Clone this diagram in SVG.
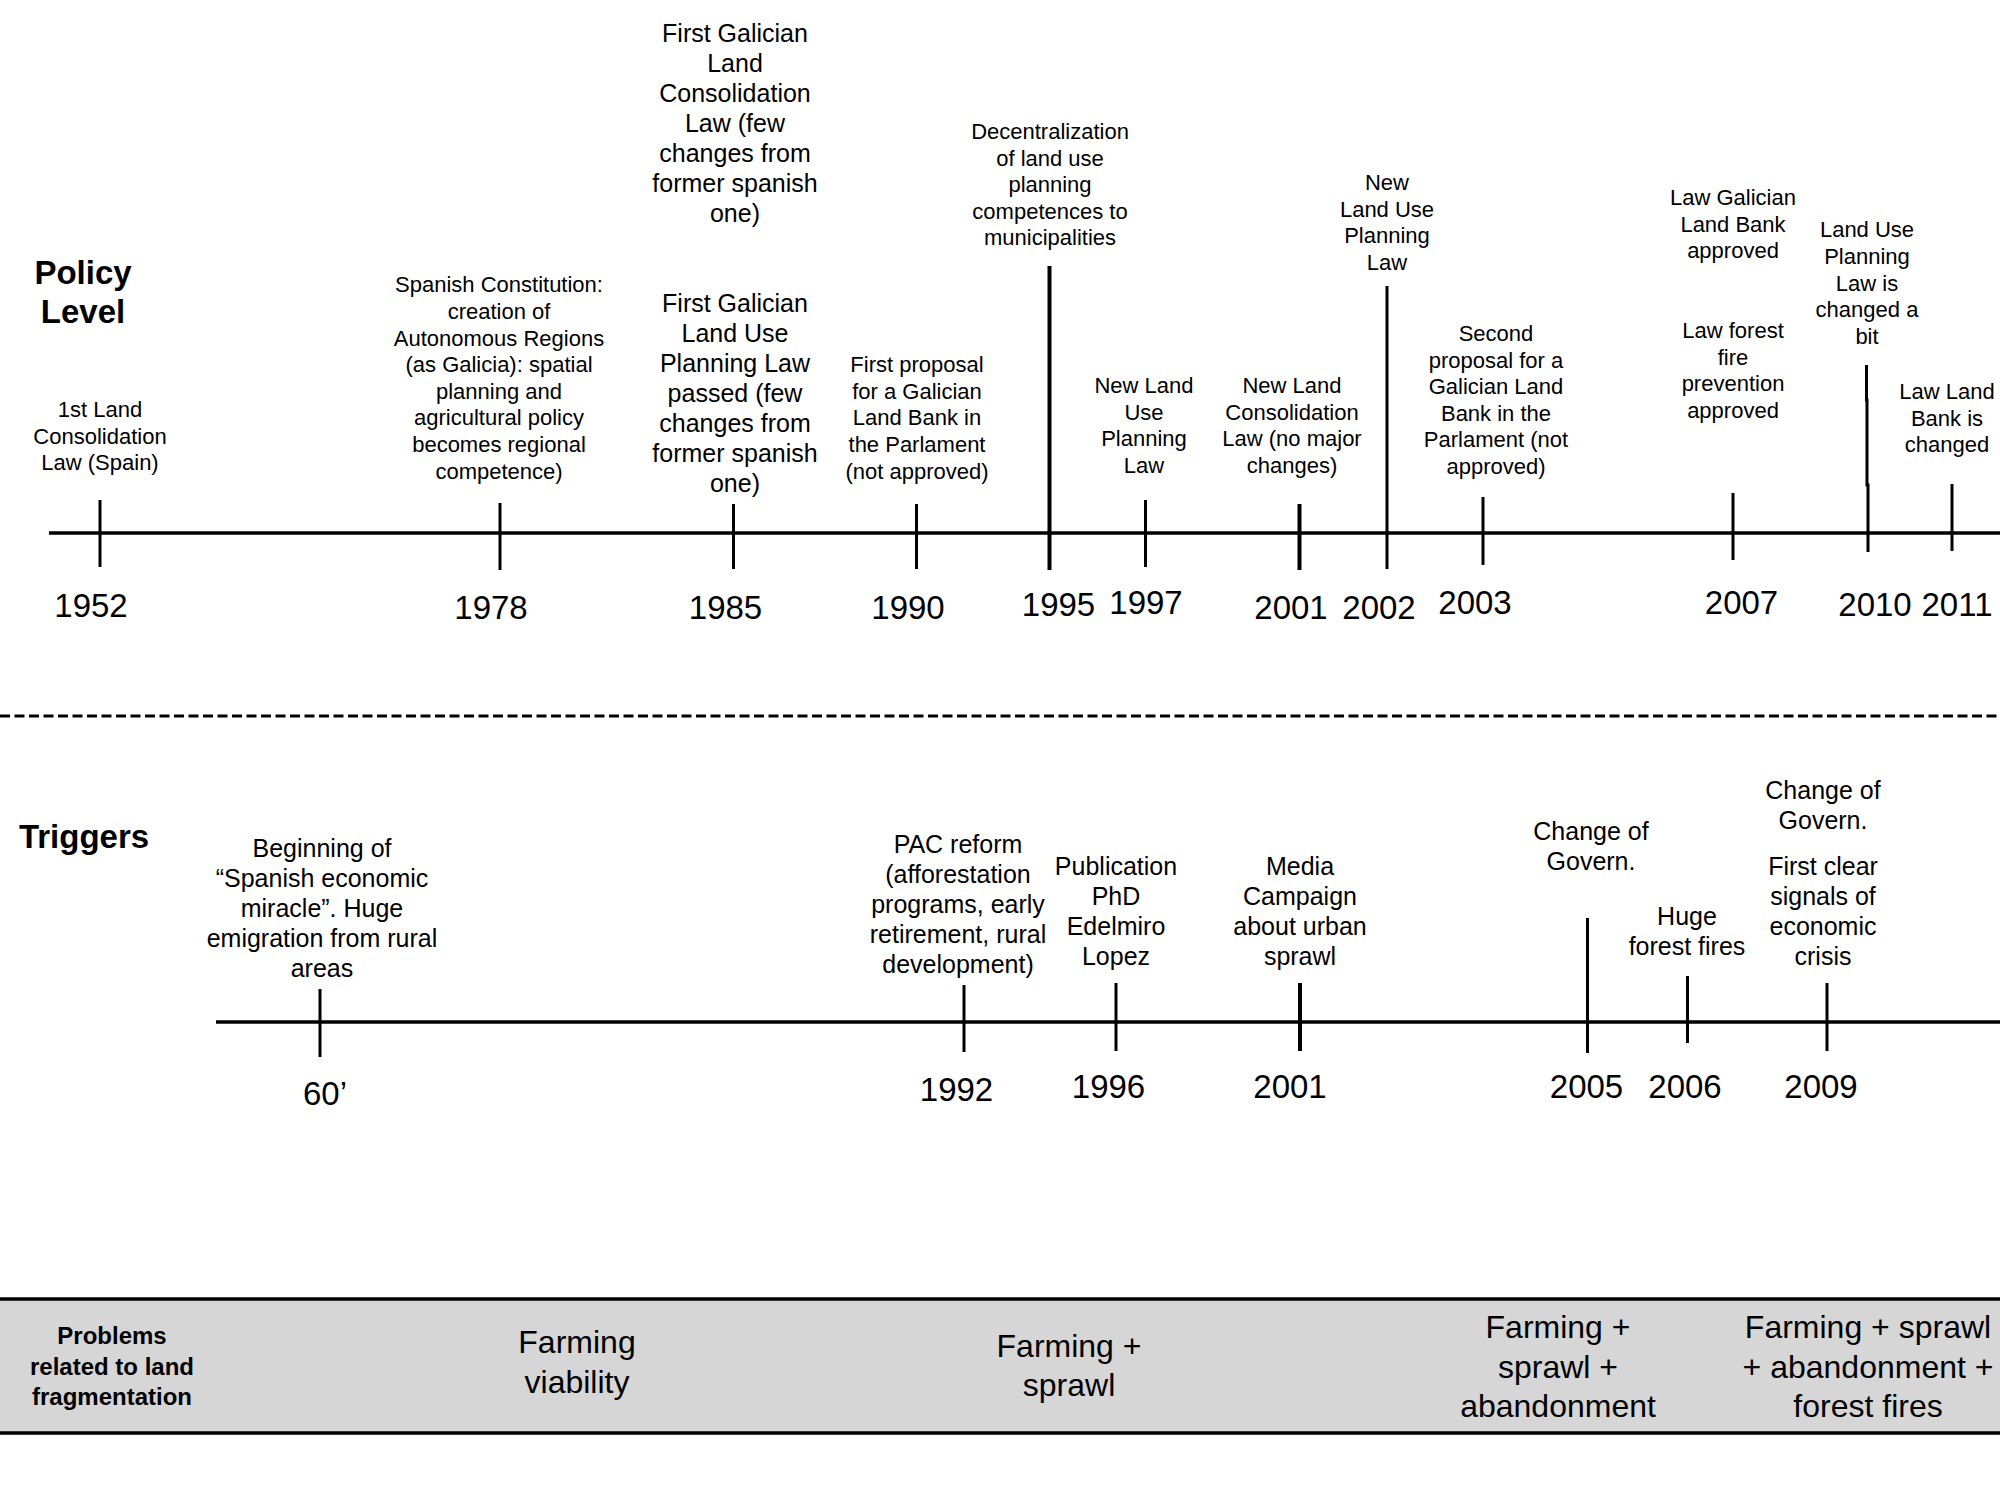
<svg xmlns="http://www.w3.org/2000/svg" width="2000" height="1500" viewBox="0 0 2000 1500">
<style>
text{font-family:"Liberation Sans",Arial,sans-serif;fill:#000;text-anchor:middle}
.h{font-size:33px;font-weight:bold}
.ev{font-size:22px}
.evl{font-size:25px}
.yr{font-size:33px}
.pb{font-size:24px;font-weight:bold}
.bd{font-size:32px}
.axis{stroke:#000;stroke-width:3.5;fill:none}
.tick{stroke:#000;stroke-width:3;fill:none}
.tk{stroke:#000;stroke-width:4;fill:none}
</style>
<rect width="2000" height="1500" fill="#fff"/>
<g id="headings">
<text class="h" x="83" y="284">Policy</text>
<text class="h" x="83" y="323">Level</text>
<text class="h" x="84" y="848">Triggers</text>
</g>
<g id="connectors">
<line class="axis" x1="49" y1="533" x2="2000" y2="533"/>
<line class="axis" x1="216" y1="1022" x2="2000" y2="1022"/>
<line stroke="#000" stroke-width="3" stroke-dasharray="10 4.5" x1="0" y1="716" x2="2000" y2="716"/>
<line class="tick" x1="100" y1="500" x2="100" y2="567"/>
<line class="tick" x1="500" y1="503" x2="500" y2="570"/>
<line class="tick" x1="733.5" y1="504" x2="733.5" y2="569"/>
<line class="tick" x1="916.5" y1="504" x2="916.5" y2="569"/>
<line class="tk" x1="1049.5" y1="266" x2="1049.5" y2="570"/>
<line class="tick" x1="1145.5" y1="500" x2="1145.5" y2="567"/>
<line class="tk" x1="1299.5" y1="504" x2="1299.5" y2="570"/>
<line class="tick" x1="1387" y1="286" x2="1387" y2="569"/>
<line class="tick" x1="1483" y1="497" x2="1483" y2="565"/>
<line class="tick" x1="1733" y1="493" x2="1733" y2="560"/>
<polyline class="tick" points="1866.5,365 1866.5,400 1867,400 1867,485 1868,485 1868,552"/>
<line class="tick" x1="1952" y1="484" x2="1952" y2="551"/>
<line class="tick" x1="320" y1="989" x2="320" y2="1057"/>
<line class="tick" x1="964" y1="985" x2="964" y2="1052"/>
<line class="tick" x1="1116" y1="983" x2="1116" y2="1051"/>
<line class="tk" x1="1300" y1="983" x2="1300" y2="1051"/>
<line class="tick" x1="1587.5" y1="918" x2="1587.5" y2="1053"/>
<line class="tick" x1="1687.5" y1="976" x2="1687.5" y2="1043"/>
<line class="tick" x1="1827" y1="983" x2="1827" y2="1051"/>
</g>
<g id="policy-years">
<text class="yr" x="91" y="617">1952</text>
<text class="yr" x="491" y="619">1978</text>
<text class="yr" x="725.5" y="619">1985</text>
<text class="yr" x="908" y="619">1990</text>
<text class="yr" x="1058.5" y="616">1995</text>
<text class="yr" x="1146" y="614">1997</text>
<text class="yr" x="1291" y="619">2001</text>
<text class="yr" x="1379" y="619">2002</text>
<text class="yr" x="1475" y="614">2003</text>
<text class="yr" x="1741.5" y="614">2007</text>
<text class="yr" x="1875" y="616">2010</text>
<text class="yr" x="1957" y="616">2011</text>
</g>
<g id="p1952"><text class="ev" x="100" y="417"><tspan x="100">1st Land</tspan><tspan x="100" dy="26.6">Consolidation</tspan><tspan x="100" dy="26.6">Law (Spain)</tspan></text></g>
<g id="p1978"><text class="ev" x="499" y="292.3"><tspan x="499">Spanish Constitution:</tspan><tspan x="499" dy="26.6">creation of</tspan><tspan x="499" dy="26.6">Autonomous Regions</tspan><tspan x="499" dy="26.6">(as Galicia): spatial</tspan><tspan x="499" dy="26.6">planning and</tspan><tspan x="499" dy="26.6">agricultural policy</tspan><tspan x="499" dy="26.6">becomes regional</tspan><tspan x="499" dy="26.6">competence)</tspan></text></g>
<g id="p1985a"><text class="evl" x="735" y="42"><tspan x="735">First Galician</tspan><tspan x="735" dy="30">Land</tspan><tspan x="735" dy="30">Consolidation</tspan><tspan x="735" dy="30">Law (few</tspan><tspan x="735" dy="30">changes from</tspan><tspan x="735" dy="30">former spanish</tspan><tspan x="735" dy="30">one)</tspan></text></g>
<g id="p1985b"><text class="evl" x="735" y="312"><tspan x="735">First Galician</tspan><tspan x="735" dy="30">Land Use</tspan><tspan x="735" dy="30">Planning Law</tspan><tspan x="735" dy="30">passed (few</tspan><tspan x="735" dy="30">changes from</tspan><tspan x="735" dy="30">former spanish</tspan><tspan x="735" dy="30">one)</tspan></text></g>
<g id="p1990"><text class="ev" x="917" y="372"><tspan x="917">First proposal</tspan><tspan x="917" dy="26.7">for a Galician</tspan><tspan x="917" dy="26.7">Land Bank in</tspan><tspan x="917" dy="26.7">the Parlament</tspan><tspan x="917" dy="26.7">(not approved)</tspan></text></g>
<g id="p1995"><text class="ev" x="1050" y="139"><tspan x="1050">Decentralization</tspan><tspan x="1050" dy="26.6">of land use</tspan><tspan x="1050" dy="26.6">planning</tspan><tspan x="1050" dy="26.6">competences to</tspan><tspan x="1050" dy="26.6">municipalities</tspan></text></g>
<g id="p1997"><text class="ev" x="1144" y="393"><tspan x="1144">New Land</tspan><tspan x="1144" dy="26.6">Use</tspan><tspan x="1144" dy="26.6">Planning</tspan><tspan x="1144" dy="26.6">Law</tspan></text></g>
<g id="p2001"><text class="ev" x="1292" y="393"><tspan x="1292">New Land</tspan><tspan x="1292" dy="26.6">Consolidation</tspan><tspan x="1292" dy="26.6">Law (no major</tspan><tspan x="1292" dy="26.6">changes)</tspan></text></g>
<g id="p2002"><text class="ev" x="1387" y="190"><tspan x="1387">New</tspan><tspan x="1387" dy="26.6">Land Use</tspan><tspan x="1387" dy="26.6">Planning</tspan><tspan x="1387" dy="26.6">Law</tspan></text></g>
<g id="p2003"><text class="ev" x="1496" y="341"><tspan x="1496">Second</tspan><tspan x="1496" dy="26.6">proposal for a</tspan><tspan x="1496" dy="26.6">Galician Land</tspan><tspan x="1496" dy="26.6">Bank in the</tspan><tspan x="1496" dy="26.6">Parlament (not</tspan><tspan x="1496" dy="26.6">approved)</tspan></text></g>
<g id="p2007a"><text class="ev" x="1733" y="205"><tspan x="1733">Law Galician</tspan><tspan x="1733" dy="26.6">Land Bank</tspan><tspan x="1733" dy="26.6">approved</tspan></text></g>
<g id="p2007b"><text class="ev" x="1733" y="338"><tspan x="1733">Law forest</tspan><tspan x="1733" dy="26.6">fire</tspan><tspan x="1733" dy="26.6">prevention</tspan><tspan x="1733" dy="26.6">approved</tspan></text></g>
<g id="p2010"><text class="ev" x="1867" y="237"><tspan x="1867">Land Use</tspan><tspan x="1867" dy="26.8">Planning</tspan><tspan x="1867" dy="26.8">Law is</tspan><tspan x="1867" dy="26.8">changed a</tspan><tspan x="1867" dy="26.8">bit</tspan></text></g>
<g id="p2011"><text class="ev" x="1947" y="399"><tspan x="1947">Law Land</tspan><tspan x="1947" dy="26.6">Bank is</tspan><tspan x="1947" dy="26.6">changed</tspan></text></g>
<g id="trigger-years">
<text class="yr" x="325" y="1105">60’</text>
<text class="yr" x="956.5" y="1101">1992</text>
<text class="yr" x="1108.5" y="1098">1996</text>
<text class="yr" x="1290" y="1098">2001</text>
<text class="yr" x="1586.5" y="1098">2005</text>
<text class="yr" x="1685" y="1098">2006</text>
<text class="yr" x="1821" y="1098">2009</text>
</g>
<g id="t60"><text class="evl" x="322" y="857"><tspan x="322">Beginning of</tspan><tspan x="322" dy="30">“Spanish economic</tspan><tspan x="322" dy="30">miracle”. Huge</tspan><tspan x="322" dy="30">emigration from rural</tspan><tspan x="322" dy="30">areas</tspan></text></g>
<g id="t1992"><text class="evl" x="958" y="853"><tspan x="958">PAC reform</tspan><tspan x="958" dy="30">(afforestation</tspan><tspan x="958" dy="30">programs, early</tspan><tspan x="958" dy="30">retirement, rural</tspan><tspan x="958" dy="30">development)</tspan></text></g>
<g id="t1996"><text class="evl" x="1116" y="874.5"><tspan x="1116">Publication</tspan><tspan x="1116" dy="30">PhD</tspan><tspan x="1116" dy="30">Edelmiro</tspan><tspan x="1116" dy="30">Lopez</tspan></text></g>
<g id="t2001"><text class="evl" x="1300" y="874.5"><tspan x="1300">Media</tspan><tspan x="1300" dy="30">Campaign</tspan><tspan x="1300" dy="30">about urban</tspan><tspan x="1300" dy="30">sprawl</tspan></text></g>
<g id="t2005"><text class="evl" x="1591" y="840"><tspan x="1591">Change of</tspan><tspan x="1591" dy="30">Govern.</tspan></text></g>
<g id="t2006"><text class="evl" x="1687" y="925"><tspan x="1687">Huge</tspan><tspan x="1687" dy="30">forest fires</tspan></text></g>
<g id="t2009a"><text class="evl" x="1823" y="799"><tspan x="1823">Change of</tspan><tspan x="1823" dy="30">Govern.</tspan></text></g>
<g id="t2009b"><text class="evl" x="1823" y="874.5"><tspan x="1823">First clear</tspan><tspan x="1823" dy="30">signals of</tspan><tspan x="1823" dy="30">economic</tspan><tspan x="1823" dy="30">crisis</tspan></text></g>
<g id="band">
<rect x="-2" y="1299" width="2004" height="134" fill="#d6d6d6" stroke="#000" stroke-width="3.5"/>
<text class="pb" x="112" y="1344"><tspan x="112">Problems</tspan><tspan x="112" dy="30.5">related to land</tspan><tspan x="112" dy="30.5">fragmentation</tspan></text>
<text class="bd" x="577" y="1353"><tspan x="577">Farming</tspan><tspan x="577" dy="40">viability</tspan></text>
<text class="bd" x="1069" y="1357"><tspan x="1069">Farming +</tspan><tspan x="1069" dy="39">sprawl</tspan></text>
<text class="bd" x="1558" y="1338"><tspan x="1558">Farming +</tspan><tspan x="1558" dy="39.5">sprawl +</tspan><tspan x="1558" dy="39.5">abandonment</tspan></text>
<text class="bd" x="1868" y="1338"><tspan x="1868">Farming + sprawl</tspan><tspan x="1868" dy="39.5">+ abandonment +</tspan><tspan x="1868" dy="39.5">forest fires</tspan></text>
</g>
</svg>
